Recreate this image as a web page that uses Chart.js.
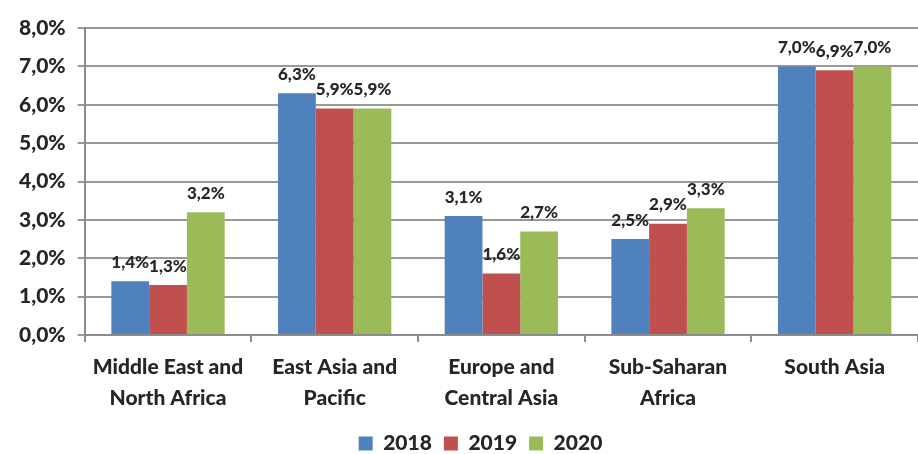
<!DOCTYPE html>
<html>
<head>
<meta charset="utf-8">
<script src="https://cdn.jsdelivr.net/npm/chart.js@4"></script>
<style>
  html, body { margin: 0; padding: 0; background: #fff; }
  #wrap { width: 918px; height: 454px; }
</style>
</head>
<body>
<div id="wrap"><canvas id="c" width="918" height="454"></canvas></div>
<script>
const regions = [
  ['Middle East and', 'North Africa'],
  ['East Asia and', 'Pacific'],
  ['Europe and', 'Central Asia'],
  ['Sub-Saharan', 'Africa'],
  'South Asia'
];
const years = ['2018', '2019', '2020'];
const values2018 = [1.4, 6.3, 3.1, 2.5, 7.0];
const values2019 = [1.3, 5.9, 1.6, 2.9, 6.9];
const values2020 = [3.2, 5.9, 2.7, 3.3, 7.0];
const colors = ['#4f81bd', '#c0504d', '#9bbb59'];

const fmt = v => v.toFixed(1).replace('.', ',') + '%';
const fontFamily = "Lato, sans-serif";

// draws value labels above each bar
const valueLabels = {
  id: 'valueLabels',
  afterDatasetsDraw(chart) {
    const ctx = chart.ctx;
    ctx.save();
    ctx.font = "900 17px " + fontFamily;
    ctx.fillStyle = '#262626';
    ctx.textAlign = 'center';
    ctx.textBaseline = 'middle';
    chart.data.datasets.forEach((ds, i) => {
      chart.getDatasetMeta(i).data.forEach((bar, j) => {
        ctx.fillText(fmt(ds.data[j]), bar.x, bar.y - 19);
      });
    });
    ctx.restore();
  }
};

// nudge the legend a bit to the right, like the original
const legendShift = {
  id: 'legendShift',
  afterLayout(chart) {
    if (chart.legend) chart.legend.left += 36;
  }
};

const seriesValues = [values2018, values2019, values2020];

new Chart(document.getElementById('c'), {
  type: 'bar',
  data: {
    labels: regions,
    datasets: years.map((y, i) => ({
      label: y,
      data: seriesValues[i],
      backgroundColor: colors[i],
      borderWidth: 0,
      categoryPercentage: 0.68,
      barPercentage: 1.0
    }))
  },
  options: {
    responsive: false,
    animation: false,
    layout: { padding: { top: 28, right: 0, left: 7, bottom: -10 } },
    plugins: {
      legend: {
        position: 'bottom',
        labels: {
          boxWidth: 14,
          boxHeight: 14,
          padding: 12,
          color: '#262626',
          font: { family: fontFamily, size: 21, weight: '900' }
        }
      },
      tooltip: { enabled: false }
    },
    scales: {
      x: {
        afterFit(scale) { scale.height -= 2; },
        grid: {
          offset: true,
          drawOnChartArea: false,
          drawTicks: true,
          tickLength: 7,
          color: '#8c8c8c',
          lineWidth: 2
        },
        border: { color: '#8c8c8c', width: 2 },
        ticks: {
          color: '#262626',
          padding: 9,
          maxRotation: 0,
          font: { family: fontFamily, size: 21, weight: '900', lineHeight: 1.5 }
        }
      },
      y: {
        min: 0,
        max: 8,
        ticks: {
          stepSize: 1,
          color: '#262626',
          padding: 12,
          font: { family: fontFamily, size: 21, weight: '900' },
          callback: v => fmt(v)
        },
        grid: {
          color: '#999999',
          lineWidth: 2,
          tickLength: 7
        },
        border: { color: '#8c8c8c', width: 2 }
      }
    }
  },
  plugins: [valueLabels, legendShift]
});
</script>
</body>
</html>
